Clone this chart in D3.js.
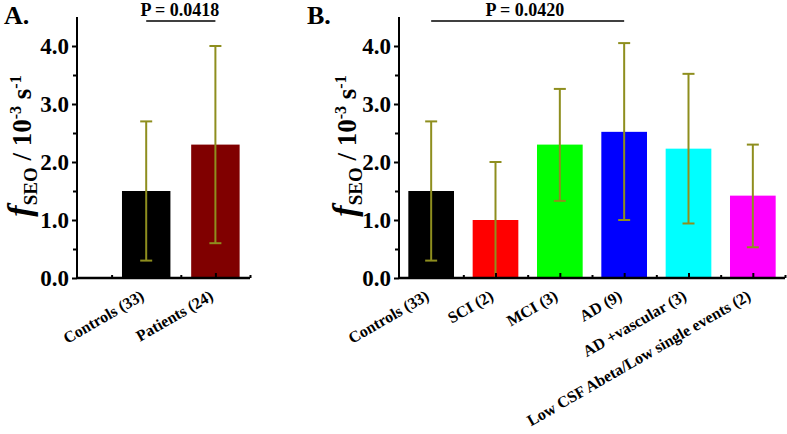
<!DOCTYPE html>
<html><head><meta charset="utf-8">
<script src="https://cdn.jsdelivr.net/npm/d3@7"></script>
<style>body{margin:0;background:#fff}svg{display:block}text{font-family:"Liberation Serif","Times New Roman",serif;font-weight:bold}</style>
</head><body>
<svg id="c" width="787" height="434"></svg>
<script>
// Panel A data
const catsA = ["Controls (33)", "Patients (24)"];
const meanA = [1.5, 2.3];
const lowA = [0.3, 0.6];
const highA = [2.7, 4.0];
const colorsA = ["#000000", "#800000"];
const pA = "P = 0.0418";
const pPairA = [0, 1];

// Panel B data
const catsB = ["Controls (33)", "SCI (2)", "MCI (3)", "AD (9)", "AD +vascular (3)", "Low CSF Abeta/Low single events (2)"];
const meanB = [1.5, 1.0, 2.3, 2.52, 2.23, 1.42];
const lowB = [0.3, 0.0, 1.33, 1.0, 0.94, 0.53];
const highB = [2.7, 2.0, 3.26, 4.05, 3.52, 2.3];
const colorsB = ["#000000", "#ff0000", "#00ff00", "#0000ff", "#00ffff", "#ff00ff"];
const pB = "P = 0.0420";
const pPairB = [0, 3];

const yTicks = [0, 1, 2, 3, 4];
const yMinor = [0.5, 1.5, 2.5, 3.5];
const errColor = "#8e8e1e";

const svg = d3.select("#c");

function panel(cfg) {
  const g = svg.append("g");
  const n = cfg.cats.length;
  const x = d3.scaleLinear().domain([cfg.x0, n + 0.5]).range([cfg.left, cfg.right]);
  const y = d3.scaleLinear().domain([0, 4.5]).range([278, 17]);
  const bw = (x(2) - x(1)) * cfg.bwFrac;

  // bars
  g.selectAll("rect.bar").data(cfg.mean).join("rect")
    .attr("x", (d, i) => x(i + 1) - bw / 2)
    .attr("y", d => y(d))
    .attr("width", bw)
    .attr("height", d => y(0) - y(d))
    .attr("fill", (d, i) => cfg.colors[i]);

  // error bars
  const eg = g.selectAll("g.err").data(cfg.mean).join("g").attr("stroke", errColor).attr("stroke-width", 2);
  eg.append("line").attr("x1", (d, i) => x(i + 1)).attr("x2", (d, i) => x(i + 1))
    .attr("y1", (d, i) => y(cfg.low[i])).attr("y2", (d, i) => y(cfg.high[i]));
  eg.append("line").attr("x1", (d, i) => x(i + 1) - 6).attr("x2", (d, i) => x(i + 1) + 6)
    .attr("y1", (d, i) => y(cfg.high[i])).attr("y2", (d, i) => y(cfg.high[i]));
  eg.append("line").attr("x1", (d, i) => x(i + 1) - 6).attr("x2", (d, i) => x(i + 1) + 6)
    .attr("y1", (d, i) => y(cfg.low[i])).attr("y2", (d, i) => y(cfg.low[i]));

  // y axis
  const ya = g.append("g").attr("transform", `translate(${cfg.left},0)`)
    .call(d3.axisLeft(y).tickValues(yTicks).tickFormat(d3.format(".1f")).tickSize(5).tickPadding(3));
  ya.select(".domain").attr("d", `M0,${y(0)}V${y(4.5)}`).attr("stroke-width", 2);
  ya.selectAll(".tick line").attr("stroke-width", 2);
  ya.selectAll(".tick text").attr("font-size", 23).attr("font-family", "Liberation Serif").attr("font-weight", "bold").attr("fill", "#000");
  const ym = g.append("g").attr("transform", `translate(${cfg.left},0)`)
    .call(d3.axisLeft(y).tickValues(yMinor).tickFormat("").tickSize(4));
  ym.select(".domain").remove();
  ym.selectAll(".tick line").attr("stroke-width", 2);

  // x axis
  const majors = d3.range(1, n + 1);
  const minors = d3.range(0, n).map(i => i + 1.5).concat(cfg.x0 < 0.5 ? [0.5] : []);
  const xa = g.append("g").attr("transform", `translate(0,${y(0)})`)
    .call(d3.axisTop(x).tickValues(majors).tickFormat("").tickSize(5));
  xa.select(".domain").attr("d", `M${cfg.left},0H${cfg.right}`).attr("stroke-width", 2.5);
  xa.selectAll(".tick line").attr("stroke-width", 2);
  const xm = g.append("g").attr("transform", `translate(0,${y(0)})`)
    .call(d3.axisTop(x).tickValues(minors).tickFormat("").tickSize(3));
  xm.select(".domain").remove();
  xm.selectAll(".tick line").attr("stroke-width", 2);

  // x labels
  g.selectAll("text.xl").data(cfg.cats).join("text")
    .attr("transform", (d, i) => `translate(${x(i + 1) - 1},${y(0) + 21}) rotate(-30)`)
    .attr("text-anchor", "end").attr("font-size", 16).text(d => d);

  // p-value
  g.append("line").attr("x1", x(cfg.pPair[0] + 1)).attr("x2", x(cfg.pPair[1] + 1))
    .attr("y1", 21).attr("y2", 21).attr("stroke", "#000").attr("stroke-width", 1.5);
  g.append("text").attr("x", cfg.pX).attr("y", 16).attr("text-anchor", "middle")
    .attr("font-size", 18).text(cfg.pText);

  // panel letter
  g.append("text").attr("x", cfg.letterX).attr("y", 24).attr("font-size", 26).text(cfg.letter);

  // y label
  const yl = g.append("text").attr("transform", `translate(${cfg.ylX},146) rotate(-90)`)
    .attr("text-anchor", "middle").attr("font-size", 27);
  yl.append("tspan").attr("font-style", "italic").attr("font-size", 34).text("f");
  yl.append("tspan").attr("font-size", 19).attr("dy", 6).text("SEO");
  yl.append("tspan").attr("dy", -6).text(" / 10");
  yl.append("tspan").attr("font-size", 16).attr("dy", -10).text("-3");
  yl.append("tspan").attr("dy", 10).text(" s");
  yl.append("tspan").attr("font-size", 16).attr("dy", -10).text("-1");
}

panel({cats: catsA, mean: meanA, low: lowA, high: highA, colors: colorsA, x0: 0, left: 77, right: 250,
  bwFrac: 0.7, pPair: pPairA, pText: pA, pX: 180, letter: "A.", letterX: 4, ylX: 31});
panel({cats: catsB, mean: meanB, low: lowB, high: highB, colors: colorsB, x0: 0.5, left: 399, right: 785,
  bwFrac: 0.71, pPair: pPairB, pText: pB, pX: 525, letter: "B.", letterX: 307, ylX: 356});
</script>
</body></html>
